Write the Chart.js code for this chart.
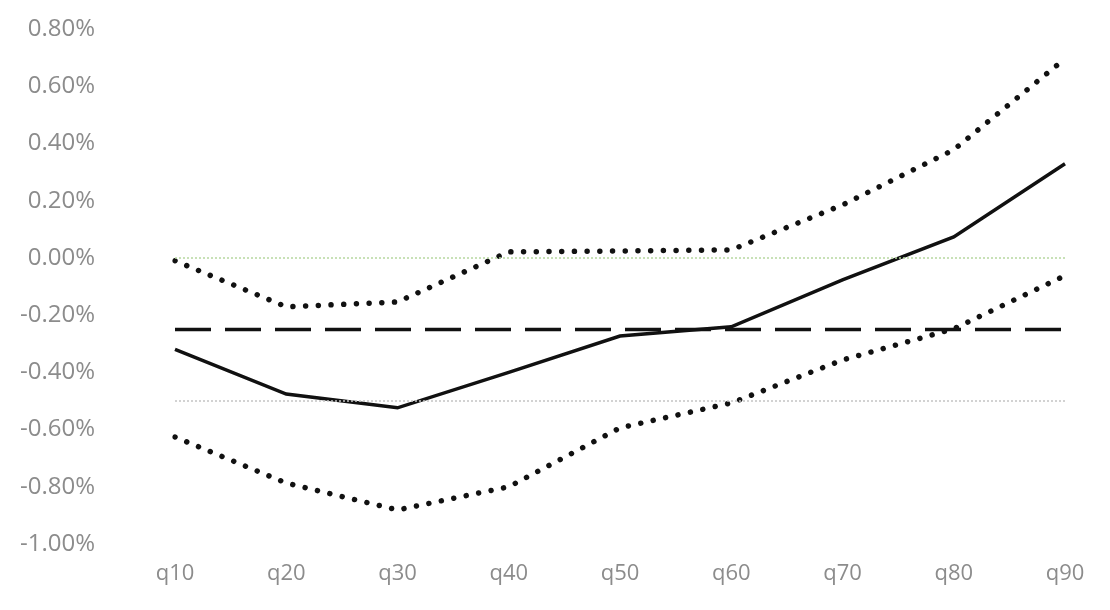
<!DOCTYPE html>
<html>
<head>
<meta charset="utf-8">
<script src="https://cdn.jsdelivr.net/npm/chart.js@4/dist/chart.umd.min.js"></script>
<style>
html,body{margin:0;padding:0;background:#fff;}
#wrap{width:1110px;height:610px;position:relative;}
</style>
</head>
<body>
<div id="wrap"><canvas id="c" width="1110" height="610"></canvas></div>
<script>
const categories = ['q10','q20','q30','q40','q50','q60','q70','q80','q90'];
const estimate = [-0.32, -0.476, -0.524, -0.40, -0.273, -0.241, -0.077, 0.073, 0.329];
const upperBound = [-0.01, -0.171, -0.154, 0.021, 0.024, 0.028, 0.185, 0.378, 0.696];
const lowerBound = [-0.626, -0.787, -0.881, -0.80, -0.594, -0.507, -0.357, -0.248, -0.062];
const meanLine = [-0.25, -0.25, -0.25, -0.25, -0.25, -0.25, -0.25, -0.25, -0.25];
const zeroLine = [0, 0, 0, 0, 0, 0, 0, 0, 0];
const halfLine = [-0.5, -0.5, -0.5, -0.5, -0.5, -0.5, -0.5, -0.5, -0.5];
const yMin = -1.0, yMax = 0.8, yStep = 0.2;

const base = {pointRadius:0, pointHoverRadius:0, tension:0, fill:false};
new Chart(document.getElementById('c'), {
  type:'line',
  data:{
    labels: categories,
    datasets:[
      Object.assign({label:'zero', data:zeroLine, borderColor:'#b6d8a0', borderWidth:1.5, borderDash:[2,2]}, base),
      Object.assign({label:'half', data:halfLine, borderColor:'#c4c4c4', borderWidth:1.5, borderDash:[2,2]}, base),
      Object.assign({label:'mean', data:meanLine, borderColor:'#111', borderWidth:3.5, borderDash:[36,14]}, base),
      Object.assign({label:'upper', data:upperBound, borderColor:'#111', borderWidth:5.5, borderDash:[0.01,12.7], borderCapStyle:'round'}, base),
      Object.assign({label:'lower', data:lowerBound, borderColor:'#111', borderWidth:5.5, borderDash:[0.01,12.7], borderCapStyle:'round'}, base),
      Object.assign({label:'estimate', data:estimate, borderColor:'#111', borderWidth:3.5, borderJoinStyle:'miter'}, base)
    ]
  },
  options:{
    responsive:false,
    animation:false,
    events:[],
    layout:{padding:{left:0, right:45, top:29, bottom:0}},
    plugins:{legend:{display:false}, tooltip:{enabled:false}},
    scales:{
      x:{
        offset:false,
        grid:{display:false, drawTicks:false},
        border:{display:false},
        ticks:{color:'#8c8c8c', padding:17, font:{family:'Open Sans', size:22}, maxRotation:0},
        afterFit:function(s){ s.height = 66; s.paddingLeft = 0; s.paddingRight = 0; }
      },
      y:{
        min:yMin, max:yMax,
        grid:{display:false, drawTicks:false},
        border:{display:false},
        ticks:{stepSize:yStep, color:'#8c8c8c', padding:80, font:{family:'Open Sans', size:24},
          callback:function(v){ return (Math.round(v*100)/100).toFixed(2) + '%'; }},
        afterFit:function(s){ s.width = 175; s.paddingTop = 0; s.paddingBottom = 0; }
      }
    }
  }
});
</script>
</body>
</html>
